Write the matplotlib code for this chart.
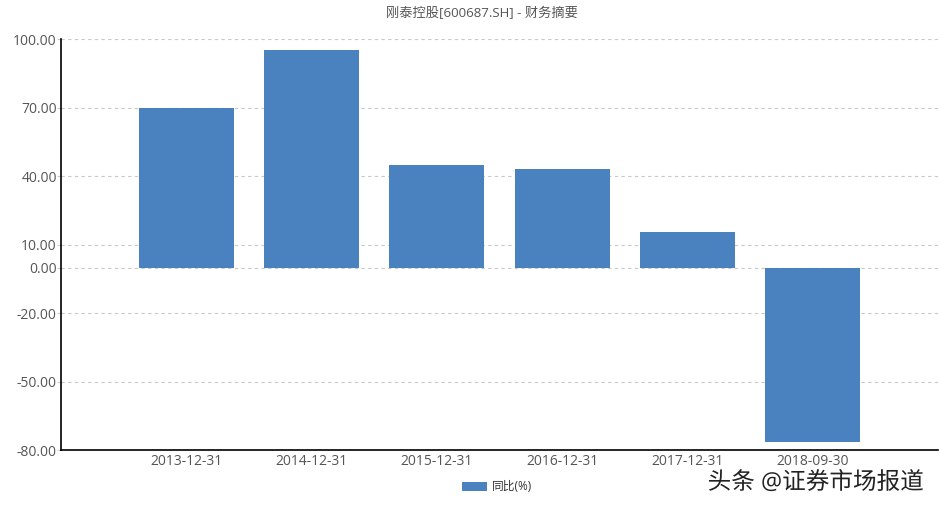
import matplotlib.pyplot as plt
import matplotlib.patheffects as pe

plt.rcParams['font.family'] = ['Open Sans', 'Noto Sans CJK SC', 'DejaVu Sans']

# dados
datas = ['2013-12-31', '2014-12-31', '2015-12-31', '2016-12-31', '2017-12-31', '2018-09-30']
yoy = [69.8, 95.4, 45.0, 43.2, 15.6, -76.6]
yticks = [100, 70, 40, 10, 0, -20, -50, -80]

cor = '#4a81bf'
texto = '#555555'

fig = plt.figure(figsize=(9.39, 5.09), dpi=100)
ax = fig.add_axes([61 / 939, 59 / 509, 877 / 939, 410.5 / 509])

x = list(range(1, len(datas) + 1))
ax.bar(x, yoy, width=0.76, color=cor, label='同比(%)', zorder=3)

ax.set_xlim(0, len(datas) + 1)
ax.set_ylim(-80, 100)
ax.set_xticks(x)
ax.set_xticklabels(datas, fontsize=10, color=texto)
ax.set_yticks(yticks)
ax.set_yticklabels(['%.2f' % v for v in yticks], fontsize=10, color=texto)
ax.tick_params(axis='x', length=0, pad=3)
ax.tick_params(axis='y', length=3, width=0.8, color='#cccccc', pad=0)

ax.grid(axis='y', linestyle=(0, (3, 3)), color='#c8c8c8', linewidth=0.8, zorder=0)
for s in ['top', 'right']:
    ax.spines[s].set_visible(False)
ax.spines['left'].set_color('black')
ax.spines['bottom'].set_color('black')
ax.spines['left'].set_linewidth(1.2)
ax.spines['bottom'].set_linewidth(1.2)

fig.text(482 / 939, 1 - 13 / 509, '刚泰控股[600687.SH] - 财务摘要', ha='center', va='center',
         fontsize=9.5, color=texto)

fig.legend(loc='center', bbox_to_anchor=(497 / 939, 1 - 487 / 509), frameon=False,
           fontsize=8.5, handlelength=2.2, handleheight=0.7, handletextpad=0.4,
           labelcolor='#333333')

fig.text(924 / 939, 1 - 483 / 509, '头条 @证券市场报道', ha='right', va='center',
         fontsize=17, color='#222222',
         path_effects=[pe.withStroke(linewidth=2.5, foreground='white')])

fig.savefig('out.png', dpi=100)
